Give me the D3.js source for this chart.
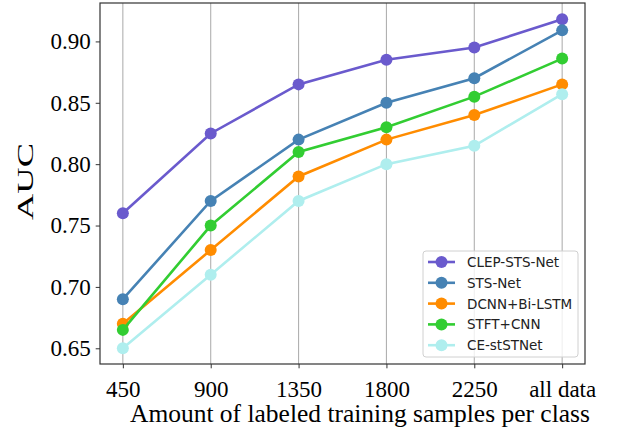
<!DOCTYPE html>
<html><head><meta charset="utf-8">
<script src="https://cdn.jsdelivr.net/npm/d3@7"></script>
<style>body{margin:0;background:#fff}</style>
</head><body>
<svg id="c" width="620" height="435"></svg>
<script>
const categories = ["450","900","1350","1800","2250","all data"];
const clepSTSNet = [0.760, 0.825, 0.865, 0.885, 0.895, 0.918];
const stsNet     = [0.690, 0.770, 0.820, 0.850, 0.870, 0.909];
const dcnnBiLSTM = [0.670, 0.730, 0.790, 0.820, 0.840, 0.865];
const stftCNN    = [0.665, 0.750, 0.810, 0.830, 0.855, 0.886];
const ceStSTNet  = [0.650, 0.710, 0.770, 0.800, 0.815, 0.857];
const yTicks = [0.65, 0.70, 0.75, 0.80, 0.85, 0.90];
const seriesNames = ["CLEP-STS-Net","STS-Net","DCNN+Bi-LSTM","STFT+CNN","CE-stSTNet"];
const seriesColors = ["#6a5acd","#4682b4","#ff8c00","#32cd32","#afeeee"];
const seriesValues = [clepSTSNet, stsNet, dcnnBiLSTM, stftCNN, ceStSTNet];

const L = 100, R = 585, T = 3, B = 364;
const serif = "'Liberation Serif', 'Times New Roman', serif";
const svg = d3.select("#c");
const x = d3.scalePoint().domain(categories).range([L, R]).padding(0.26);
const y = d3.scaleLinear().domain([0.6372, 0.9313]).range([B, T]);

// grid
svg.append("g").selectAll("line").data(categories).join("line")
  .attr("x1", d => x(d)).attr("x2", d => x(d)).attr("y1", T).attr("y2", B)
  .attr("stroke", "#b0b0b0").attr("stroke-width", 1.1);

// axes
const xAxis = svg.append("g").attr("transform", `translate(0,${B})`)
  .call(d3.axisBottom(x).tickSize(4.3).tickPadding(12));
const yAxis = svg.append("g").attr("transform", `translate(${L},0)`)
  .call(d3.axisLeft(y).tickValues(yTicks).tickFormat(d3.format(".2f")).tickSize(4.3).tickPadding(5));
[xAxis, yAxis].forEach(a => {
  a.select(".domain").remove();
  a.selectAll("line").attr("stroke", "#333").attr("stroke-width", 1);
  a.selectAll("text").attr("font-family", serif)
    .attr("font-size", 23).attr("fill", "#000");
});
svg.append("rect").attr("x", L).attr("y", T).attr("width", R - L).attr("height", B - T)
  .attr("fill", "none").attr("stroke", "#333").attr("stroke-width", 1.2);

// series
const line = d3.line().x((d, i) => x(categories[i])).y(d => y(d));
seriesValues.forEach((vals, k) => {
  const g = svg.append("g");
  g.append("path").datum(vals).attr("d", line).attr("fill", "none")
    .attr("stroke", seriesColors[k]).attr("stroke-width", 2.6);
  g.selectAll("circle").data(vals).join("circle")
    .attr("cx", (d, i) => x(categories[i])).attr("cy", d => y(d)).attr("r", 6)
    .attr("fill", seriesColors[k]);
});

// labels
const xl = svg.append("text")
  .attr("font-family", serif).attr("font-size", 25)
  .text("Amount of labeled training samples per class");
const xlLen = xl.node().getComputedTextLength();
xl.attr("transform", `translate(130,422) scale(${460 / xlLen},1)`);

const yl = svg.append("text")
  .attr("font-family", serif).attr("font-size", 24)
  .text("AUC");
const ylLen = yl.node().getComputedTextLength();
yl.attr("transform", `translate(33,220) rotate(-90) scale(${77 / ylLen},1)`);

// legend
const lg = svg.append("g");
lg.append("rect").attr("x", 423).attr("y", 251).attr("width", 155).attr("height", 106)
  .attr("rx", 3).attr("fill", "#fff").attr("fill-opacity", 0.8).attr("stroke", "#d0d0d0");
seriesNames.forEach((n, k) => {
  const yy = 262 + k * 20.8;
  lg.append("line").attr("x1", 428).attr("x2", 455).attr("y1", yy).attr("y2", yy)
    .attr("stroke", seriesColors[k]).attr("stroke-width", 2.6);
  lg.append("circle").attr("cx", 441.5).attr("cy", yy).attr("r", 6).attr("fill", seriesColors[k]);
  lg.append("text").attr("x", 467).attr("y", yy + 5).attr("font-family", "'DejaVu Sans', sans-serif")
    .attr("font-size", 13.5).attr("fill", "#222").text(n);
});
</script>
</body></html>
